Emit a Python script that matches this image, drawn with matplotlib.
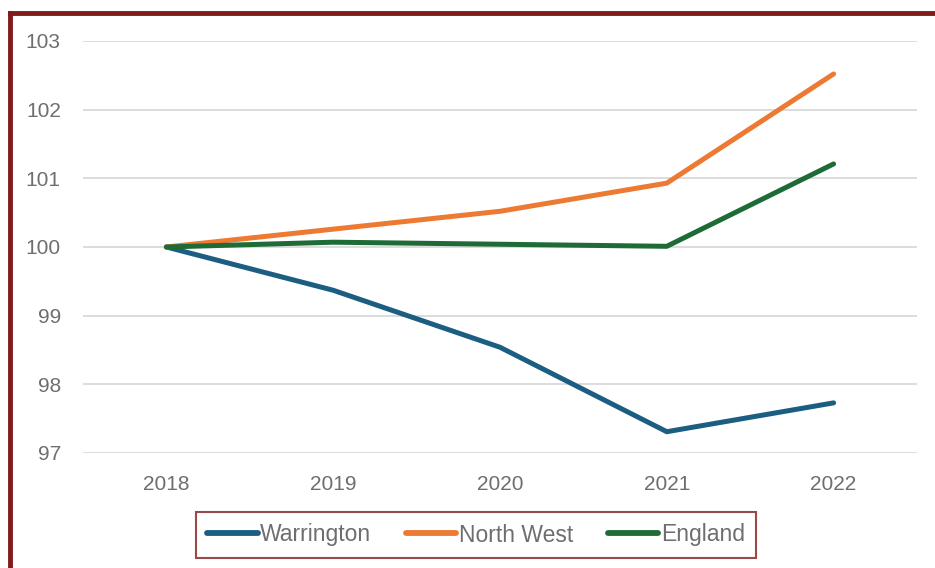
import matplotlib
matplotlib.use("Agg")
import matplotlib.pyplot as plt
from matplotlib.lines import Line2D

years = ["2018", "2019", "2020", "2021", "2022"]
warrington = [100.0, 99.37, 98.54, 97.31, 97.73]
north_west = [100.0, 100.26, 100.52, 100.93, 102.52]
england = [100.0, 100.07, 100.04, 100.01, 101.21]

plt.rcParams['font.family'] = ['Liberation Sans', 'DejaVu Sans']
text_col = '#6e6e6e'
border_col = '#7f1b1b'

fig = plt.figure(figsize=(9.35, 5.68), dpi=100)
ax = fig.add_axes([83/935, 1-453/568, (917-83)/935, (453-41)/568])

x = list(range(len(years)))
ax.plot(x, warrington, color='#1b5e82', lw=3.6, label='Warrington', solid_capstyle='round', solid_joinstyle='round')
ax.plot(x, north_west, color='#ed7a33', lw=3.6, label='North West', solid_capstyle='round', solid_joinstyle='round')
ax.plot(x, england, color='#1e6b36', lw=3.6, label='England', solid_capstyle='round', solid_joinstyle='round')

ax.set_xlim(-0.5, 4.5)
ax.set_ylim(97, 103)
ax.set_yticks([97, 98, 99, 100, 101, 102, 103])
ax.set_xticks(x)
ax.set_xticklabels(years)
ax.grid(axis='y', color='#d9d9d9', lw=1.3)
ax.set_axisbelow(True)
for s in ax.spines.values():
    s.set_visible(False)
ax.tick_params(length=0, labelsize=15, labelcolor=text_col)
ax.tick_params(axis='y', pad=16)
ax.tick_params(axis='x', pad=16)

leg = fig.legend(loc='center', bbox_to_anchor=(476/935, 1-535/568), ncol=3,
                 fontsize=16.5, frameon=True, fancybox=False, handlelength=2.2,
                 handletextpad=0.12, columnspacing=1.5, borderpad=0.5)
leg.get_frame().set_edgecolor(border_col)
leg.get_frame().set_linewidth(1.5)
for t in leg.get_texts():
    t.set_color(text_col)
for h in leg.get_lines():
    h.set_linewidth(4.2)

# outer border (left and top visible)
fig.add_artist(Line2D([10/935, 10/935], [0, 1-13/568], transform=fig.transFigure, color=border_col, lw=3.5, solid_capstyle='projecting'))
fig.add_artist(Line2D([10/935, 1.0], [1-13/568, 1-13/568], transform=fig.transFigure, color=border_col, lw=3.5, solid_capstyle='projecting'))

fig.savefig('out.png', dpi=100)
